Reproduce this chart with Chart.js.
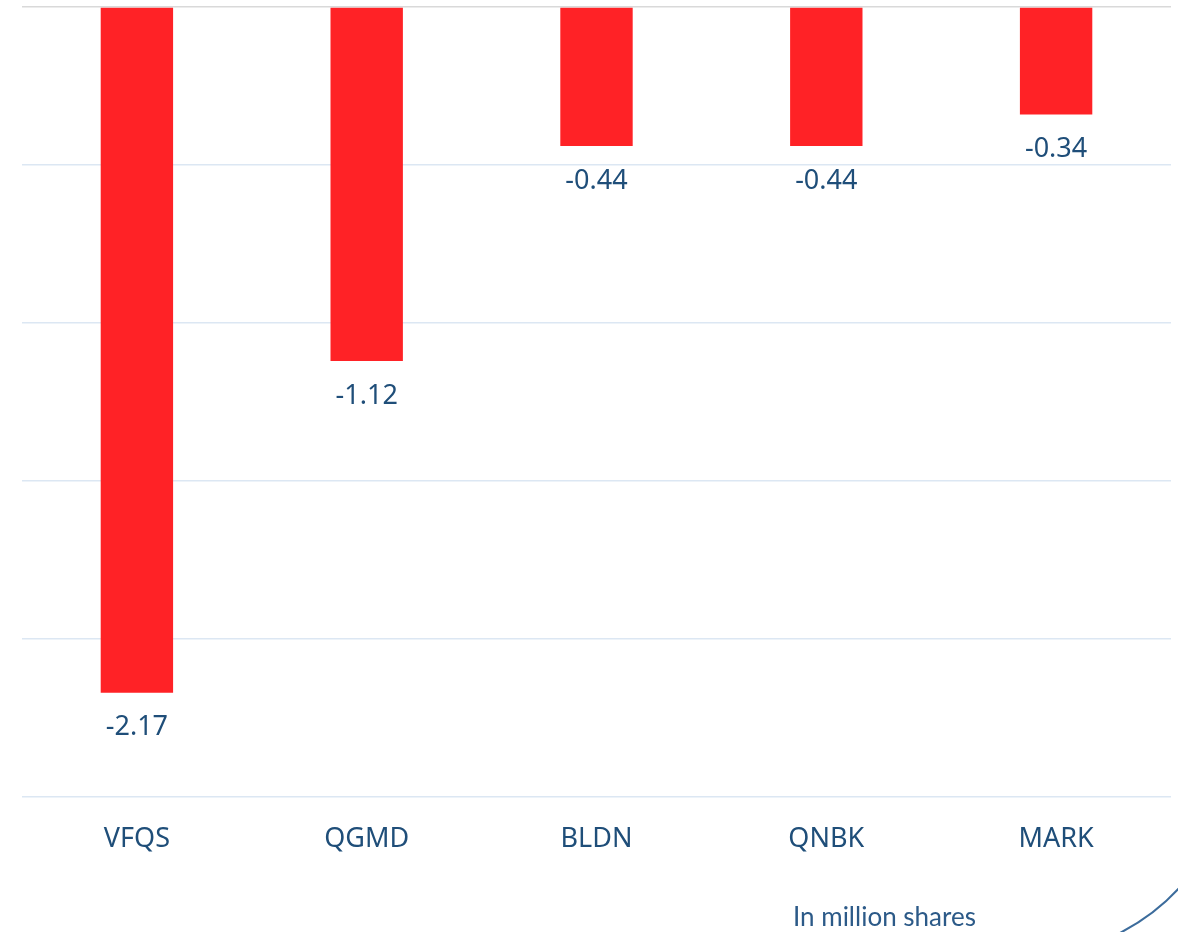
<!DOCTYPE html>
<html>
<head>
<meta charset="utf-8">
<script src="https://cdn.jsdelivr.net/npm/chart.js@4"></script>
<style>
html,body{margin:0;padding:0;background:#fff;}
#wrap{width:1178px;height:932px;position:relative;}
</style>
</head>
<body>
<div id="wrap"><canvas id="c" width="1178" height="932"></canvas></div>
<script>
const categories = ["VFQS", "QGMD", "BLDN", "QNBK", "MARK"];
const values = [-2.17, -1.12, -0.44, -0.44, -0.34];
const yMin = -2.5, yMax = 0, yStep = 0.5;
const unitNote = "In million shares";

const textColor = "#1F4E79";

const labelPlugin = {
  id: "barLabels",
  afterDatasetsDraw(chart) {
    const ctx = chart.ctx;
    const meta = chart.getDatasetMeta(0);
    ctx.save();
    ctx.font = "27px 'Noto Sans'";
    ctx.fillStyle = textColor;
    ctx.textAlign = "center";
    ctx.textBaseline = "middle";
    meta.data.forEach((bar, i) => {
      ctx.fillText(values[i].toFixed(2), bar.x, bar.y + 35);
    });
    ctx.restore();
  }
};

const decoPlugin = {
  id: "deco",
  afterDraw(chart) {
    const ctx = chart.ctx;
    ctx.save();
    ctx.font = "26px Lato";
    ctx.fillStyle = "#2C5A88";
    ctx.textAlign = "left";
    ctx.textBaseline = "alphabetic";
    ctx.fillText(unitNote, 793, 926);
    ctx.strokeStyle = "#3C6C9C";
    ctx.lineWidth = 2;
    ctx.beginPath();
    ctx.moveTo(1118, 934);
    ctx.quadraticCurveTo(1155, 915, 1180, 887);
    ctx.stroke();
    ctx.restore();
  }
};

new Chart(document.getElementById("c"), {
  type: "bar",
  data: {
    labels: categories,
    datasets: [{
      data: values,
      backgroundColor: "#FF2226",
      borderWidth: 0,
      categoryPercentage: 1,
      barPercentage: 0.315
    }]
  },
  options: {
    responsive: false,
    animation: false,
    devicePixelRatio: 1,
    layout: { padding: { left: 22, right: 7, top: 7, bottom: 0 } },
    plugins: { legend: { display: false }, tooltip: { enabled: false } },
    scales: {
      x: {
        grid: { display: false, drawTicks: false },
        border: { display: false },
        ticks: { color: textColor, font: { family: "Noto Sans", size: 27 }, padding: 26 },
        afterFit(scale) { scale.height = 135; }
      },
      y: {
        min: yMin, max: yMax,
        ticks: { display: false, stepSize: yStep },
        border: { display: false },
        grid: {
          drawTicks: false,
          lineWidth: 1.5,
          color: (c) => (c.tick && c.tick.value === 0) ? "#D9D9D9" : "#DCE7F3"
        }
      }
    }
  },
  plugins: [labelPlugin, decoPlugin]
});
</script>
</body>
</html>
